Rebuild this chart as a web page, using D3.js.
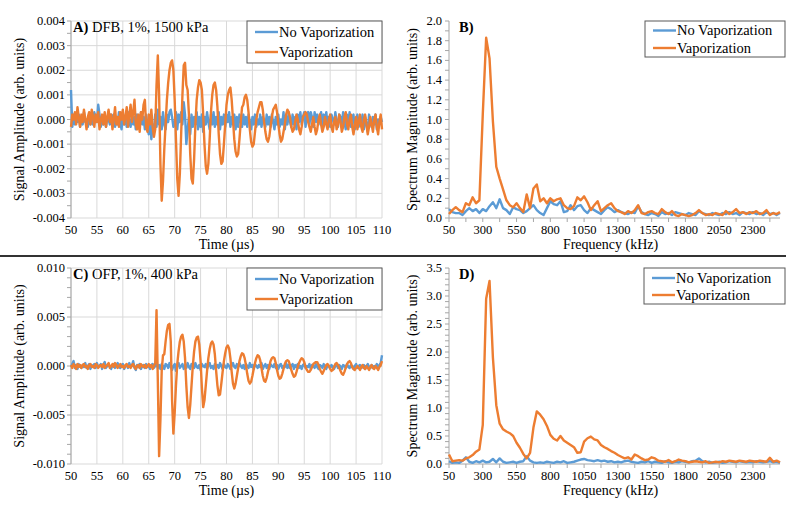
<!DOCTYPE html>
<html>
<head>
<meta charset="utf-8">
<script src="https://cdn.jsdelivr.net/npm/d3@7"></script>
<style>
body { margin: 0; background: #fff; }
svg { display: block; }
svg text { font-family: 'Liberation Serif', 'Times New Roman', 'DejaVu Serif', serif; }
</style>
</head>
<body>
<svg id="chart" width="800" height="514"></svg>
<script>
// time traces, sampled every 0.25 us from 50 us; amplitudes in units of 1e-4
var timeStart = 50, timeStep = 0.25;
var timeTicks = [50, 55, 60, 65, 70, 75, 80, 85, 90, 95, 100, 105, 110];

var ampA_noVap = [
  12, -3, 2, -2, 1, -1, 2, -3,
  1, -2, 3, -1, 0, -3, 2, -2,
  1, -2, 3, 0, -1, 6, 2, -3,
  1, -2, 2, -3, 1, 0, -2, 2,
  -1, 2, -3, 1, -2, 3, -1, -4,
  2, -2, 1, -3, 3, -1, -3, 2,
  -2, 1, -4, 2, -1, -3, 3, -2,
  1, -4, 2, -3, -6, 1, -8, -2,
  -5, 2, -3, 4, -2, 1, -4, 3,
  -2, -4, 2, -1, 3, 4, 1, -3,
  -2, 3, -4, 2, -1, 3, -2, 7,
  2, -10, -4, 1, -6, 2, -3, 1,
  -2, 3, -4, 1, -3, 2, -5, 1,
  -2, 3, -1, -4, 2, -2, 3, -3,
  1, -2, 3, -4, 1, -2, 2, -3,
  2, -1, 3, -3, 1, -2, 2, -4,
  1, -3, 2, -1, -3, 2, -2, 1,
  -3, 2, -1, -4, 1, -2, 2, -3,
  0, -2, 2, -3, 1, -1, -3, 2,
  -2, 1, -3, 2, -1, -4, 1, -2,
  2, -3, 0, -2, 3, -4, 1, -2,
  3, -1, -3, 2, -2, 1, -4, 2,
  -1, 3, -2, 1, 3, -3, 2, 3,
  -2, 3, 1, -3, 3, -1, 2, -2,
  1, 3, -3, 2, -1, 3, -2, 1,
  -3, 2, 0, -2, 3, -1, -3, 2,
  1, -2, 3, -1, -4, 2, -2, 3,
  -3, 1, 2, -4, -1, 2, -3, 1,
  -2, 2, -4, 1, -2, -5, 2, -1,
  -3, 1, -2, 2, -4, 0, -2, 1,
  -1
];
var ampA_vap = [
  -3, 2, 0, 3, -2, 5, 1, -3,
  2, -1, 4, 0, -4, 1, 3, -2,
  4, 1, -3, 2, -1, 3, -4, 0,
  2, -2, 3, -3, 1, 4, -1, 2,
  -4, 0, 5, -2, 1, -3, 3, 0,
  4, -2, 1, 5, -3, 2, 6, -1,
  3, 8, -2, -4, 2, -5, 3, 0,
  6, 8, -3, -5, 2, -2, 4, -3,
  -7, -4, 14, 26, 10, -18, -33, -25,
  -12, -2, 8, 15, 20, 23, 24, 20,
  8, -8, -24, -31, -22, -6, 10, 22,
  23, 14, 12, 2, -14, -24, -26, -16,
  -2, 8, 13, 16, 15, 12, 2, -10,
  -19, -22, -18, -8, 3, 10, 14, 15,
  12, 5, -6, -14, -18, -17, -10, -2,
  6, 10, 12, 13, 8, 0, -8, -13,
  -15, -14, -8, -1, 5, 6, 9, 10,
  8, 3, -4, -9, -11, -10, -5, 0,
  3, 5, 7, 7, 4, -1, -5, -8,
  -9, -7, -3, 1, 4, 5, 6, 3,
  -2, -6, -9, -8, -5, -2, 2, 4,
  3, 1, -3, -5, -4, -1, 2, 0,
  -4, -6, -3, 1, 2, 3, 2, -1,
  -3, -5, -2, 1, -3, -6, -4, 0,
  2, -2, -5, -3, 1, -2, -4, 0,
  2, -3, -5, -1, 1, -4, -2, 2,
  -1, -5, -3, 1, 3, -2, -4, 0,
  2, -3, -6, -2, 1, -4, -1, 2,
  -3, -5, 0, 2, -2, -6, -3, 1,
  -2, -5, 0, 2, -3, -6, -1, 2,
  -4
];
var ampC_noVap = [
  -1, 2, 5, -2, 1, -3, 2, 0,
  -2, 1, -1, 3, -2, 0, 2, -3,
  1, -1, 2, -2, 3, -1, 0, 2,
  -3, 1, 4, -2, 0, 2, -1, -3,
  1, 2, -2, 0, 3, -1, -2, 1,
  2, -3, 0, 1, -2, 3, -1, 0,
  5, -2, -4, 1, -1, 2, -3, 0,
  1, -2, 2, -1, 0, -3, 1, 2,
  -2, 0, 3, -2, 1, -3, 2, 0,
  -3, 2, 1, -2, 3, -1, -4, 0,
  2, -5, 1, 3, -2, 0, 2, -3,
  1, -2, 3, -1, -3, 2, 0, -2,
  3, -1, -2, 1, -4, 2, 0, -1,
  2, -3, 1, 3, -2, 0, -3, 2,
  -1, 1, -2, 3, 0, -3, 2, -1,
  -2, 2, 0, -3, 1, 3, -1, -2,
  2, -1, 3, 0, -2, 1, -3, 2,
  0, -2, 3, -1, 1, -3, 2, 0,
  -2, 1, -1, 3, -3, 0, 2, -2,
  1, -3, 2, 0, -1, 2, -2, 1,
  -3, 1, 2, -2, 0, -1, 3, -2,
  1, -2, 0, 2, -3, 1, -1, 2,
  -2, 0, -3, 1, 2, -2, 0, -1,
  2, -3, 1, 0, -2, 2, -1, -3,
  1, 0, -2, 2, -1, -3, 1, 0,
  -2, 1, -1, -3, 0, 2, -2, 1,
  -1, -3, 1, 0, -2, 2, -1, -2,
  1, -1, -3, 0, 2, -2, 0, 1,
  -2, -1, 1, -3, 0, 2, -1, -2,
  1, -2, 0, -1, 2, -3, 1, 3,
  11
];
var ampC_vap = [
  1, -2, 2, 0, -3, 2, -1, 1,
  -2, 1, 2, -1, 0, -3, 1, 2,
  -1, 0, -2, 2, 1, -2, 0, 1,
  -1, 2, -2, 0, 1, 3, -2, 0,
  2, -1, 3, 1, -2, 0, 2, -1,
  0, -2, 1, 2, -1, 0, -2, 1,
  2, -1, -3, 0, 1, -2, 2, 0,
  -1, 1, -2, 0, 2, -1, 1, -3,
  0, 3, 57, -15, -92, -55, -5, 11,
  12, 25, 36, 42, 43, 25, -35, -69,
  -48, -20, 2, 15, 25, 30, 32, 25,
  8, -20, -42, -53, -40, -20, 0, 15,
  25, 29, 30, 22, 5, -22, -42, -35,
  -20, -5, 8, 17, 23, 25, 22, 12,
  -5, -20, -30, -29, -18, -6, 5, 13,
  19, 21, 18, 8, -6, -18, -23, -18,
  -10, -2, 5, 10, 13, 12, 8, 1,
  -8, -15, -18, -16, -10, -3, 3, 8,
  11, 10, 6, -2, -10, -15, -16, -12,
  -6, 0, 5, 8, 9, 8, 3, -4,
  -10, -13, -12, -8, -3, 2, 5, 6,
  5, 1, -4, -8, -11, -10, -6, -1,
  3, 6, 8, 7, 4, -1, -4, -6,
  -6, -4, -1, 2, 3, 4, 4, 1,
  -3, -6, -8, -5, -2, 1, 2, 0,
  -3, -5, -4, -1, 2, 3, 1, -2,
  -5, -8, -9, -6, -2, 2, 4, 5,
  3, -1, -3, -4, -2, 0, -2, -4,
  -1, 1, -2, -3, 0, -2, -4, -1,
  1, -2, -3, 0, -2, -4, -1, 1,
  5
];

// spectra, every 25 kHz from 50 kHz
var freqStart = 50, freqStep = 25;
var freqTicks = [50, 300, 550, 800, 1050, 1300, 1550, 1800, 2050, 2300];

var specB_noVap = [
  0.09, 0.06, 0.05, 0.05, 0.03, 0.07, 0.10, 0.07, 0.09, 0.05,
  0.09, 0.07, 0.12, 0.16, 0.10, 0.19, 0.10, 0.08, 0.04, 0.11,
  0.09, 0.08, 0.05, 0.07, 0.10, 0.13, 0.08, 0.05, 0.03, 0.10,
  0.17, 0.14, 0.13, 0.17, 0.06, 0.07, 0.13, 0.08, 0.12, 0.13,
  0.08, 0.05, 0.10, 0.08, 0.06, 0.04, 0.08, 0.11, 0.09, 0.06,
  0.08, 0.06, 0.05, 0.04, 0.06, 0.05, 0.12, 0.06, 0.04, 0.03,
  0.05, 0.04, 0.02, 0.06, 0.04, 0.05, 0.03, 0.06, 0.05, 0.04,
  0.03, 0.05, 0.04, 0.03, 0.07, 0.05, 0.04, 0.03, 0.05, 0.04,
  0.03, 0.05, 0.04, 0.06, 0.04, 0.05, 0.03, 0.06, 0.05, 0.04,
  0.06, 0.04, 0.05, 0.03, 0.06, 0.04, 0.05, 0.03, 0.05
];
var specB_vap = [
  0.04, 0.08, 0.11, 0.08, 0.06, 0.15, 0.13, 0.21, 0.15, 0.18,
  1.05, 1.83, 1.62, 0.98, 0.52, 0.40, 0.29, 0.18, 0.13, 0.11,
  0.15, 0.10, 0.06, 0.24, 0.10, 0.30, 0.34, 0.17, 0.20, 0.15,
  0.20, 0.17, 0.19, 0.20, 0.13, 0.10, 0.09, 0.12, 0.21, 0.18,
  0.22, 0.16, 0.08, 0.13, 0.17, 0.07, 0.10, 0.13, 0.15, 0.10,
  0.07, 0.06, 0.04, 0.07, 0.05, 0.08, 0.13, 0.05, 0.04, 0.06,
  0.07, 0.05, 0.04, 0.09, 0.06, 0.04, 0.07, 0.03, 0.02, 0.04,
  0.03, 0.02, 0.03, 0.05, 0.08, 0.05, 0.03, 0.04, 0.03, 0.05,
  0.04, 0.03, 0.07, 0.04, 0.06, 0.09, 0.05, 0.06, 0.04, 0.06,
  0.05, 0.07, 0.04, 0.05, 0.08, 0.03, 0.05, 0.04, 0.06
];
var specD_noVap = [
  0.05, 0.02, 0.03, 0.02, 0.06, 0.12, 0.04, 0.02, 0.05, 0.03,
  0.06, 0.03, 0.04, 0.09, 0.03, 0.10, 0.04, 0.02, 0.03, 0.04,
  0.02, 0.04, 0.05, 0.14, 0.06, 0.03, 0.02, 0.03, 0.02, 0.04,
  0.03, 0.02, 0.04, 0.03, 0.05, 0.02, 0.03, 0.04, 0.06, 0.08,
  0.09, 0.07, 0.06, 0.05, 0.07, 0.05, 0.06, 0.04, 0.05, 0.03,
  0.04, 0.03, 0.05, 0.06, 0.04, 0.03, 0.02, 0.04, 0.03, 0.05,
  0.02, 0.04, 0.03, 0.02, 0.05, 0.03, 0.02, 0.04, 0.03, 0.05,
  0.04, 0.03, 0.05, 0.06, 0.10, 0.05, 0.03, 0.04, 0.02, 0.03,
  0.04, 0.02, 0.03, 0.05, 0.04, 0.03, 0.05, 0.04, 0.03, 0.04,
  0.03, 0.05, 0.04, 0.03, 0.04, 0.05, 0.03, 0.04, 0.02
];
var specD_vap = [
  0.17, 0.05, 0.06, 0.07, 0.06, 0.10, 0.12, 0.16, 0.22, 0.26,
  0.70, 2.95, 3.27, 1.90, 1.05, 0.72, 0.62, 0.58, 0.55, 0.50,
  0.38, 0.29, 0.18, 0.10, 0.20, 0.65, 0.94, 0.88, 0.80, 0.68,
  0.52, 0.45, 0.42, 0.50, 0.42, 0.38, 0.34, 0.30, 0.20, 0.21,
  0.40, 0.46, 0.49, 0.44, 0.42, 0.34, 0.30, 0.27, 0.23, 0.20,
  0.16, 0.13, 0.10, 0.12, 0.08, 0.17, 0.14, 0.10, 0.07, 0.08,
  0.12, 0.10, 0.06, 0.05, 0.04, 0.07, 0.03, 0.05, 0.08, 0.06,
  0.05, 0.03, 0.04, 0.05, 0.04, 0.03, 0.05, 0.02, 0.03, 0.04,
  0.03, 0.05, 0.04, 0.06, 0.05, 0.04, 0.06, 0.05, 0.04, 0.06,
  0.05, 0.04, 0.06, 0.05, 0.04, 0.11, 0.04, 0.06, 0.03
];

var legendNames = ["No Vaporization", "Vaporization"];
var colors = ["#5b9bd5", "#ed7d31"];
var axisColor = "#a6a6a6", gridColor = "#d9d9d9";
var serif = "'Liberation Serif', 'Times New Roman', 'DejaVu Serif', serif";

var svg = d3.select("#chart").attr("font-family", serif);

function toPoints(values, start, step, unit) {
  return values.map((v, i) => [start + i * step, v * unit]);
}

function drawLegend(g, box, rows) {
  g.append("rect")
    .attr("x", box.x).attr("y", box.y)
    .attr("width", box.w).attr("height", box.h)
    .attr("fill", "#fff").attr("stroke", "#595959").attr("stroke-width", 1);
  legendNames.forEach((name, i) => {
    let r = rows[i];
    g.append("line")
      .attr("x1", box.x + 8).attr("x2", box.x + 31)
      .attr("y1", r.line).attr("y2", r.line)
      .attr("stroke", colors[i]).attr("stroke-width", 2.4);
    g.append("text")
      .attr("x", box.x + 32).attr("y", r.text)
      .attr("font-family", serif)
      .attr("font-size", 14.5).attr("fill", "#000")
      .text(name);
  });
}

function drawTitle(g, x, y, bold, rest) {
  let t = g.append("text").attr("x", x).attr("y", y)
    .attr("font-family", serif).attr("font-size", 14.5);
  t.append("tspan").attr("font-weight", "bold").text(bold);
  if (rest) t.append("tspan").text(rest);
}

function yTitle(g, x, y, label) {
  g.append("text")
    .attr("transform", `translate(${x},${y}) rotate(-90)`)
    .attr("text-anchor", "middle")
    .attr("font-family", serif)
    .attr("font-size", 14)
    .text(label);
}

function timePanel(p) {
  let g = svg.append("g");
  let x = d3.scaleLinear().domain([50, 110]).range([p.x0, p.x1]);
  let y = d3.scaleLinear().domain([-p.lim, p.lim]).range([p.y1, p.y0]);

  g.selectAll(".vg").data(timeTicks).join("line")
    .attr("x1", d => x(d)).attr("x2", d => x(d))
    .attr("y1", p.y0).attr("y2", p.y1)
    .attr("stroke", gridColor).attr("stroke-width", 1);
  g.selectAll(".hg").data(p.yTicks).join("line")
    .attr("x1", p.x0).attr("x2", p.x1)
    .attr("y1", d => y(d)).attr("y2", d => y(d))
    .attr("stroke", gridColor).attr("stroke-width", 1);

  // value axis
  g.append("line").attr("x1", p.x0).attr("x2", p.x0)
    .attr("y1", p.y0).attr("y2", p.y1).attr("stroke", axisColor);
  g.selectAll(".mt").data(p.minor).join("line")
    .attr("x1", p.x0 - 4).attr("x2", p.x0)
    .attr("y1", d => y(d)).attr("y2", d => y(d))
    .attr("stroke", axisColor);
  g.selectAll(".yl").data(p.yTicks).join("text")
    .attr("x", p.x0 - 6).attr("y", d => y(d) + 4)
    .attr("text-anchor", "end").attr("font-size", 12.5)
    .attr("font-family", serif)
    .text(d => d.toFixed(3));

  // zero line
  g.append("line").attr("x1", p.x0).attr("x2", p.x1)
    .attr("y1", y(0)).attr("y2", y(0)).attr("stroke", axisColor);

  g.selectAll(".xl").data(timeTicks).join("text")
    .attr("x", d => x(d)).attr("y", p.y1 + 16)
    .attr("text-anchor", "middle").attr("font-size", 12.5)
    .attr("font-family", serif)
    .text(d => d);
  g.append("text").attr("x", (p.x0 + p.x1) / 2).attr("y", p.y1 + 31)
    .attr("text-anchor", "middle").attr("font-size", 14)
    .attr("font-family", serif)
    .text("Time (\u00b5s)");

  let line = d3.line().x(d => x(d[0])).y(d => y(d[1]));
  p.series.forEach((s, i) => {
    g.append("path")
      .attr("d", line(toPoints(s, timeStart, timeStep, 1e-4)))
      .attr("fill", "none").attr("stroke", colors[i])
      .attr("stroke-width", 2.4).attr("stroke-linejoin", "round");
  });

  yTitle(g, p.titleX, (p.y0 + p.y1) / 2, "Signal Amplitude (arb. units)");
  drawTitle(g, p.x0 + 2, p.y0 + 11, p.label, p.labelRest);
  drawLegend(g, p.legend, p.legendRows);
}

function specPanel(p) {
  let g = svg.append("g");
  let x = d3.scaleLinear().domain([50, 2500]).range([p.x0, p.x1]);
  let y = d3.scaleLinear().domain([0, p.max]).range([p.y1, p.y0]);

  g.append("line").attr("x1", p.x0).attr("x2", p.x0)
    .attr("y1", p.y0).attr("y2", p.y1).attr("stroke", axisColor);
  g.selectAll(".mt").data(p.minor).join("line")
    .attr("x1", p.x0 - 4).attr("x2", p.x0)
    .attr("y1", d => y(d)).attr("y2", d => y(d))
    .attr("stroke", axisColor);
  g.selectAll(".yl").data(p.yTicks).join("text")
    .attr("x", p.x0 - 7).attr("y", d => y(d) + 4)
    .attr("text-anchor", "end").attr("font-size", 12.5)
    .attr("font-family", serif)
    .text(d => d.toFixed(1));

  g.append("line").attr("x1", p.x0).attr("x2", p.x1)
    .attr("y1", p.y1).attr("y2", p.y1).attr("stroke", axisColor);
  g.selectAll(".xt").data(d3.range(50, 2500, 125)).join("line")
    .attr("x1", d => x(d)).attr("x2", d => x(d))
    .attr("y1", p.y1).attr("y2", p.y1 + 4)
    .attr("stroke", axisColor);
  g.selectAll(".xl").data(freqTicks).join("text")
    .attr("x", d => x(d)).attr("y", p.y1 + 16)
    .attr("text-anchor", "middle").attr("font-size", 12.5)
    .attr("font-family", serif)
    .text(d => d);
  g.append("text").attr("x", (p.x0 + p.x1) / 2 - 4).attr("y", p.y1 + 31)
    .attr("text-anchor", "middle").attr("font-size", 14)
    .attr("font-family", serif)
    .text("Frequency (kHz)");

  let line = d3.line().x(d => x(d[0])).y(d => y(d[1]));
  p.series.forEach((s, i) => {
    g.append("path")
      .attr("d", line(toPoints(s, freqStart, freqStep, 1)))
      .attr("fill", "none").attr("stroke", colors[i])
      .attr("stroke-width", 2.4).attr("stroke-linejoin", "round");
  });

  yTitle(g, p.titleX, (p.y0 + p.y1) / 2, "Spectrum Magnitude (arb. units)");
  drawTitle(g, p.x0 + 10, p.y0 + 11, p.label, "");
  drawLegend(g, p.legend, p.legendRows);
}

timePanel({
  x0: 71, x1: 382, y0: 21, y1: 218, lim: 0.004,
  yTicks: d3.range(-4, 5).map(d => d * 0.001),
  minor: d3.range(-8, 9).map(d => d * 0.0005),
  series: [ampA_noVap, ampA_vap],
  titleX: 24, label: "A)", labelRest: " DFB, 1%, 1500 kPa",
  legend: { x: 247, y: 21, w: 135, h: 42 },
  legendRows: [{ line: 32, text: 37 }, { line: 52, text: 57 }]
});

specPanel({
  x0: 449, x1: 780, y0: 21, y1: 218, max: 2.0,
  yTicks: d3.range(0, 11).map(d => d * 0.2),
  minor: d3.range(0, 21).map(d => d * 0.1),
  series: [specB_noVap, specB_vap],
  titleX: 417, label: "B)",
  legend: { x: 645, y: 21, w: 140, h: 36 },
  legendRows: [{ line: 30.5, text: 35 }, { line: 48, text: 52.5 }]
});

timePanel({
  x0: 71, x1: 382, y0: 268, y1: 464, lim: 0.010,
  yTicks: d3.range(-2, 3).map(d => d * 0.005),
  minor: d3.range(-10, 11).map(d => d * 0.001),
  series: [ampC_noVap, ampC_vap],
  titleX: 24, label: "C)", labelRest: " OFP, 1%, 400 kPa",
  legend: { x: 247, y: 268, w: 135, h: 42 },
  legendRows: [{ line: 279, text: 283.5 }, { line: 299, text: 303.5 }]
});

specPanel({
  x0: 449, x1: 780, y0: 268, y1: 464, max: 3.5,
  yTicks: d3.range(0, 8).map(d => d * 0.5),
  minor: d3.range(0, 36).map(d => d * 0.1),
  series: [specD_noVap, specD_vap],
  titleX: 417, label: "D)",
  legend: { x: 644, y: 268, w: 141, h: 36 },
  legendRows: [{ line: 278, text: 282.5 }, { line: 295, text: 299.5 }]
});

// divider between the two rows
svg.append("line").attr("x1", 0).attr("x2", 786)
  .attr("y1", 256).attr("y2", 256)
  .attr("stroke", "#333").attr("stroke-width", 2);
</script>
</body>
</html>
